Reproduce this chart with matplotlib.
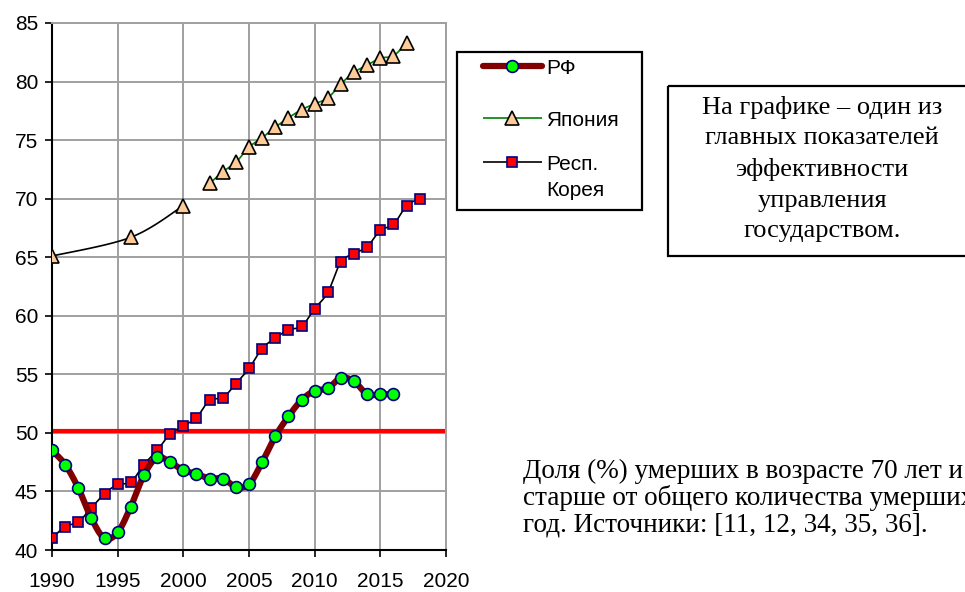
import numpy as np
import matplotlib
matplotlib.use("Agg")
import matplotlib.pyplot as plt
from matplotlib.patches import Rectangle

# data
rf_years = list(range(1990, 2017))
rf_share = [48.5, 47.3, 45.3, 42.7, 41.0, 41.5, 43.7, 46.4, 47.9, 47.5,
            46.8, 46.5, 46.1, 46.1, 45.4, 45.6, 47.5, 49.7, 51.4, 52.8,
            53.6, 53.8, 54.7, 54.4, 53.3, 53.3, 53.3]

japan_years_early = [1990, 1996, 2000]
japan_share_early = [65.1, 66.7, 69.4]
japan_years = list(range(2002, 2018))
japan_share = [71.3, 72.3, 73.1, 74.4, 75.2, 76.1, 76.9, 77.6,
               78.1, 78.6, 79.8, 80.8, 81.4, 82.0, 82.2, 83.3]

korea_years = list(range(1990, 2019))
korea_share = [41.0, 42.0, 42.4, 43.6, 44.8, 45.6, 45.8, 47.3, 48.5, 49.9,
               50.6, 51.3, 52.8, 53.0, 54.2, 55.5, 57.2, 58.1, 58.8, 59.1,
               60.6, 62.0, 64.6, 65.3, 65.9, 67.3, 67.8, 69.4, 70.0]

threshold = 50.15

x_ticks = list(range(1990, 2021, 5))
y_ticks = list(range(40, 86, 5))

legend_labels = ["РФ", "Япония", "Респ.\nКорея"]

box_text = "На графике – один из\nглавных показателей\nэффективности\nуправления\nгосударством."
note_text = ("Доля (%) умерших в возрасте 70 лет и\n"
             "старше от общего количества умерших\n"
             "год. Источники: [11, 12, 34, 35, 36].")

rf_style = dict(color="#800000", lw=4.5, marker="o", ms=8.5,
                mfc="#00ff00", mec="#000080", mew=1.2)
jp_style = dict(color="#008000", lw=1.2, marker="^", ms=9.5,
                mfc="#ffcc99", mec="black", mew=1.2)
kr_style = dict(color="black", lw=1.2, marker="s", ms=7.5,
                mfc="#ff0000", mec="#000080", mew=1.2)


def smooth(x, y, n=24):
    # bezier smoothing like a spreadsheet "smoothed line"
    x = np.asarray(x, float)
    y = np.asarray(y, float)
    px = np.concatenate([[x[0]], x, [x[-1]]])
    py = np.concatenate([[y[0]], y, [y[-1]]])
    t = np.linspace(0, 1, n)[:, None]
    xs, ys = [], []
    for i in range(1, len(px) - 2):
        p0 = np.array([px[i - 1], py[i - 1]])
        p1 = np.array([px[i], py[i]])
        p2 = np.array([px[i + 1], py[i + 1]])
        p3 = np.array([px[i + 2], py[i + 2]])
        c1 = p1 + (p2 - p0) / 6
        c2 = p2 - (p3 - p1) / 6
        b = ((1 - t) ** 3) * p1 + 3 * ((1 - t) ** 2) * t * c1 + 3 * (1 - t) * t ** 2 * c2 + t ** 3 * p2
        xs.append(b[:, 0])
        ys.append(b[:, 1])
    return np.concatenate(xs), np.concatenate(ys)


def only_line(style):
    return {k: v for k, v in style.items() if k in ("color", "lw")}


def only_marker(style):
    return {k: v for k, v in style.items() if k not in ("color", "lw")}


plt.rcParams["font.family"] = ["Liberation Sans", "DejaVu Sans"]

fig = plt.figure(figsize=(9.65, 5.92), dpi=100)
ax = fig.add_axes([52 / 965, 42 / 592, 394 / 965, 527 / 592])

grid_c = "#a0a0a0"
ax.axhline(threshold, color="#ff0000", lw=3, zorder=2)

# Korea
kx, ky = smooth(korea_years, korea_share)
ax.plot(kx, ky, zorder=3, **only_line(kr_style))
ax.plot(korea_years, korea_share, ls="none", zorder=4, **only_marker(kr_style))

# Japan
jx, jy = smooth(japan_years_early, japan_share_early)
ax.plot(jx, jy, color="black", lw=1.2, zorder=3)
jx, jy = smooth(japan_years, japan_share)
ax.plot(jx, jy, zorder=3, **only_line(jp_style))
ax.plot(japan_years_early + japan_years, japan_share_early + japan_share,
        ls="none", zorder=4, **only_marker(jp_style))

# Russia
rx, ry = smooth(rf_years, rf_share)
ax.plot(rx, ry, zorder=5, solid_capstyle="round", **only_line(rf_style))
ax.plot(rf_years, rf_share, ls="none", zorder=6, **only_marker(rf_style))

ax.set_xlim(1990, 2020)
ax.set_ylim(40, 85)
ax.set_xticks(x_ticks)
ax.set_yticks(y_ticks)
ax.grid(True, color=grid_c, lw=1.4, zorder=0)
ax.set_axisbelow(True)
ax.tick_params(labelsize=15, length=5, width=1.2, direction="out", colors="black")
ax.tick_params(axis="x", pad=11)
ax.tick_params(axis="y", pad=5)
for s in ["top", "right"]:
    ax.spines[s].set_color(grid_c)
    ax.spines[s].set_linewidth(1.4)
for s in ["left", "bottom"]:
    ax.spines[s].set_color("black")
    ax.spines[s].set_linewidth(1.5)

# overlay in pixel coordinates for the legend and the text boxes
ov = fig.add_axes([0, 0, 1, 1], zorder=10)
ov.set_xlim(0, 965)
ov.set_ylim(592, 0)
ov.axis("off")
ov.patch.set_alpha(0)

ov.add_patch(Rectangle((457, 52), 185, 158, fill=False, edgecolor="black", lw=1.6))
rows = [66, 118, 162]
for row, style, label in zip(rows, [rf_style, jp_style, kr_style], legend_labels):
    ov.plot([483, 542], [row, row], solid_capstyle="round" if style is rf_style else "butt",
            **only_line(style))
    ov.plot([512], [row], ls="none", **only_marker(style))
    ov.text(546, row - 7, label, ha="left", va="top", fontsize=15, linespacing=1.45)

ov.add_patch(Rectangle((668, 86), 310, 170, fill=False, edgecolor="black", lw=1.6))
ov.text(822, 169, box_text, ha="center", va="center",
        fontsize=19, family="Liberation Serif", linespacing=1.5)

ov.text(523, 459, note_text, ha="left", va="top",
        fontsize=19.5, family="Liberation Serif", linespacing=1.05)

fig.savefig("out.png", dpi=100)
